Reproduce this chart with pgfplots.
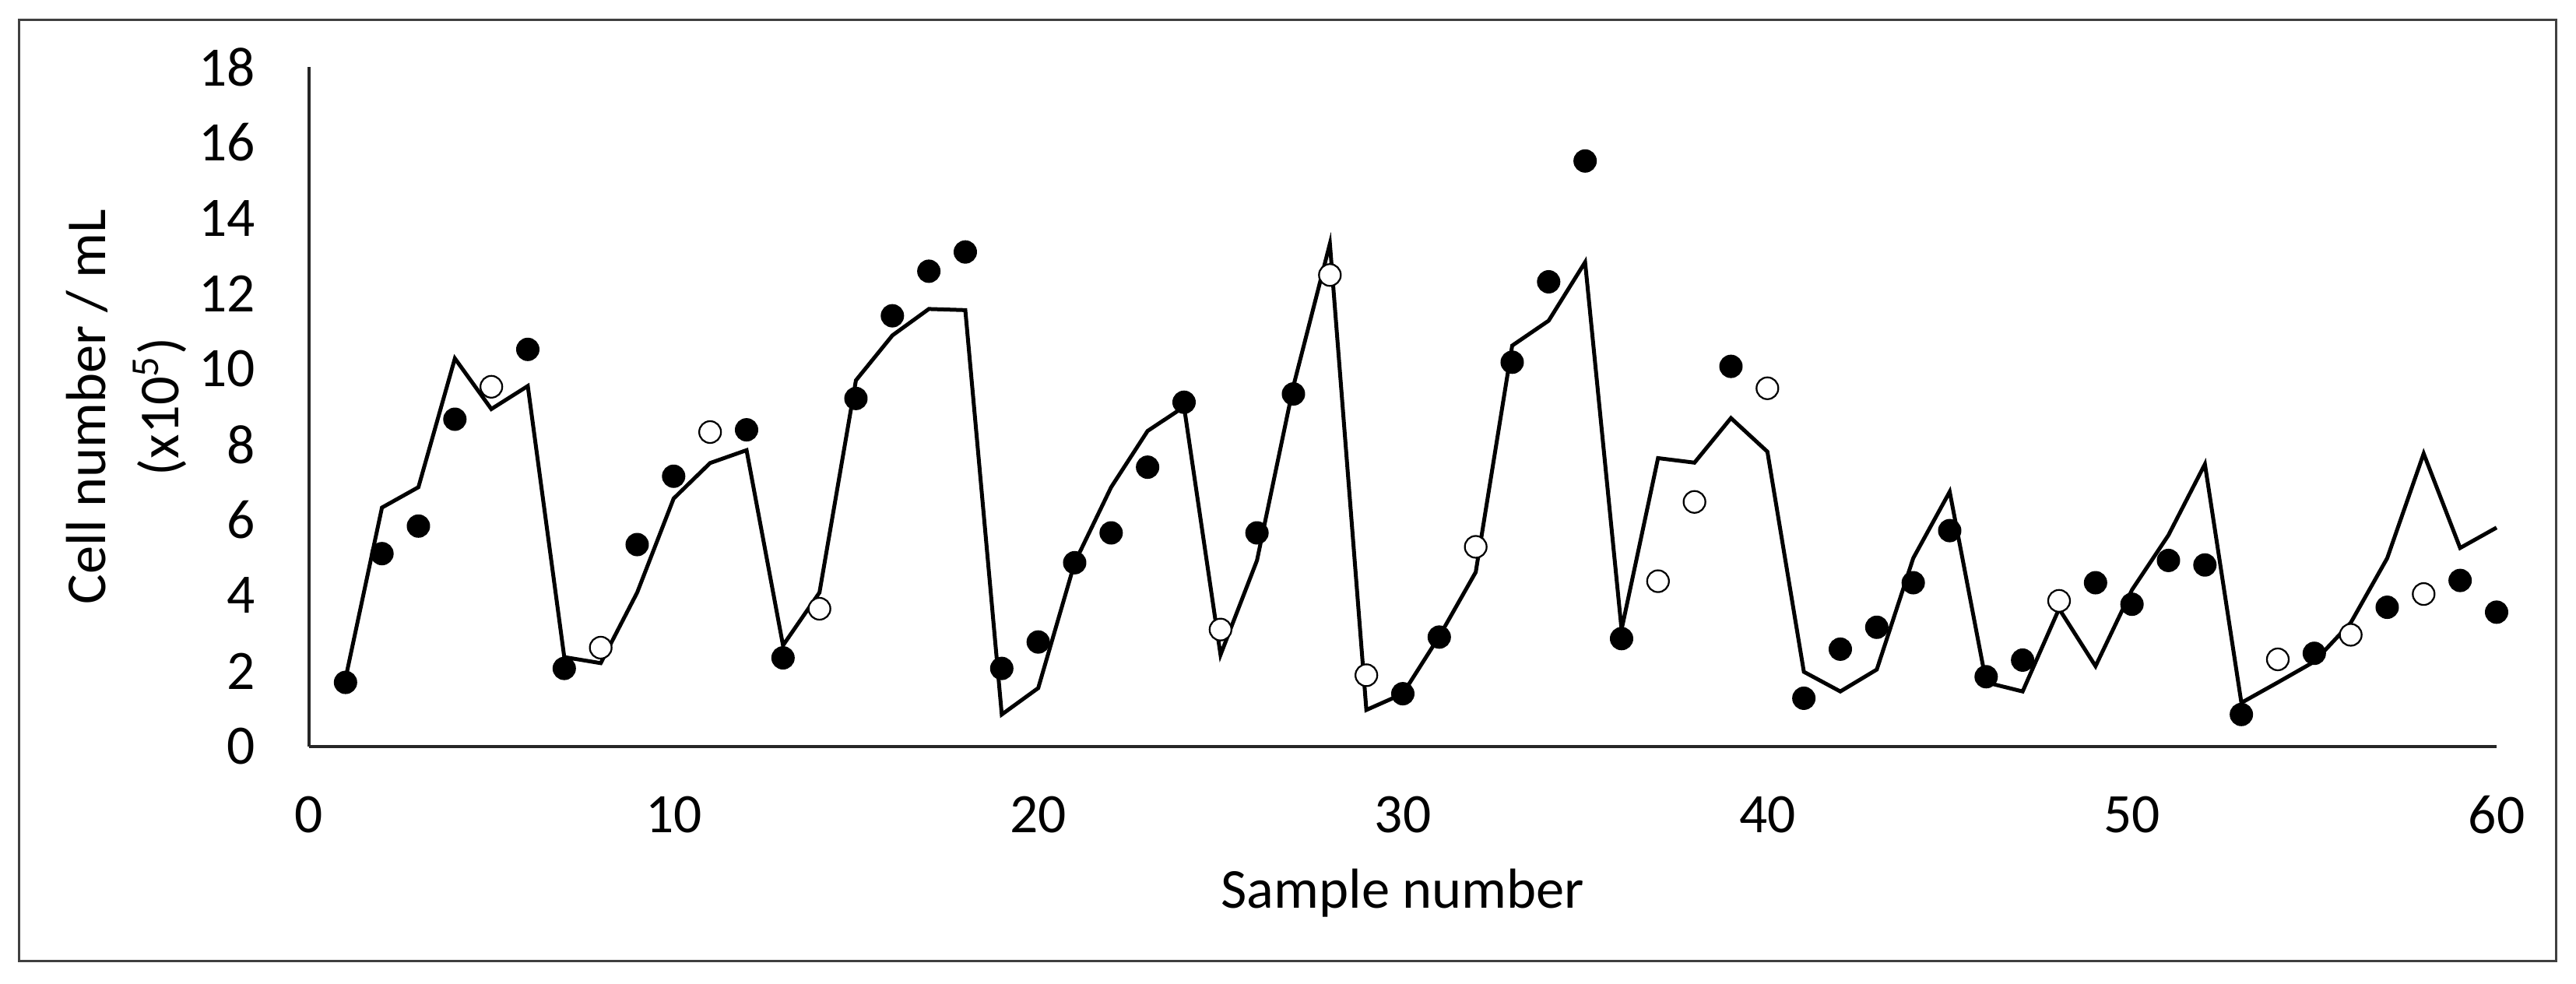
\documentclass[border=0pt]{standalone}
\usepackage{pgfplots}
\pgfplotsset{compat=1.18}
\usepackage{fontspec}
\setmainfont{Carlito}
\begin{document}
\begin{tikzpicture}
\useasboundingbox (-79.4pt,-60.8pt) rectangle (582.4pt,191.8pt);
\fill[white] (-79.4pt,-60.8pt) rectangle (582.4pt,191.8pt);
\draw[black!75, line width=0.6pt] (-74.4pt,-55pt) rectangle (577.2pt,186.8pt);
\begin{axis}[
  at={(0pt,0pt)}, anchor=south west,
  scale only axis, width=562pt, height=174.6pt,
  xmin=0, xmax=60, ymin=0, ymax=18,
  axis x line=bottom, axis y line=left,
  axis line style={-, draw=black!85, line width=0.7pt},
  xtick={0,10,...,60}, ytick={0,2,...,18},
  major tick length=0pt,
  /pgf/number format/assume math mode=true,
  tick label style={font=\fontsize{14.3}{17}\selectfont, inner sep=0pt},
  xticklabel style={anchor=center, yshift=-17.6pt},
  yticklabel style={anchor=east, xshift=-13.6pt},
  xlabel={Sample number},
  ylabel={Cell number / mL\\(x10\textsuperscript{5})},
  label style={font=\fontsize{14.5}{18.8}\selectfont},
  xlabel style={at={(axis description cs:0.5,-0.2153)}, anchor=center},
  ylabel style={at={(axis description cs:-0.0836,0.5)}, anchor=center, align=center},
  clip=false,
]
\addplot[black, line width=1pt, no marks] coordinates {
(1,1.8) (2,6.33) (3,6.87) (4,10.28) (5,8.94) (6,9.55) (7,2.37) (8,2.21) (9,4.08) (10,6.57)
(11,7.51) (12,7.85) (13,2.68) (14,4.08) (15,9.7) (16,10.89) (17,11.59) (18,11.56) (19,0.85) (20,1.55)
(21,4.87) (22,6.87) (23,8.36) (24,9.0) (25,2.43) (26,4.93) (27,9.55) (28,13.32) (29,0.97) (30,1.40)
(31,2.92) (32,4.62) (33,10.62) (34,11.28) (35,12.83) (36,3.10) (37,7.64) (38,7.52) (39,8.70) (40,7.81)
(41,1.98) (42,1.46) (43,2.04) (44,4.99) (45,6.75) (46,1.70) (47,1.46) (48,3.65) (49,2.13) (50,4.15)
(51,5.60) (52,7.48) (53,1.16) (54,1.70) (55,2.25) (56,3.28) (57,4.99) (58,7.76) (59,5.26) (60,5.80)
};
\addplot[only marks, mark=*, mark size=2.8pt, mark options={fill=black, draw=black}] coordinates {
(1,1.70) (2,5.11) (3,5.84) (4,8.67) (6,10.52) (7,2.07) (9,5.35) (10,7.16) (12,8.39) (13,2.35)
(15,9.22) (16,11.41) (17,12.59) (18,13.10) (19,2.07) (20,2.77) (21,4.87) (22,5.66) (23,7.40) (24,9.12)
(26,5.66) (27,9.34) (30,1.40) (31,2.90) (33,10.18) (34,12.31) (35,15.51) (36,2.86) (39,10.07) (41,1.28)
(42,2.58) (43,3.16) (44,4.34) (45,5.72) (46,1.85) (47,2.29) (49,4.34) (50,3.77) (51,4.93) (52,4.81)
(53,0.85) (55,2.47) (57,3.69) (59,4.40) (60,3.56)
};
\addplot[only marks, mark=*, mark size=2.8pt, mark options={fill=white, draw=black, line width=0.45pt}] coordinates {
(5,9.53) (8,2.62) (11,8.33) (14,3.65) (25,3.10) (28,12.49) (29,1.89) (32,5.29) (37,4.38) (38,6.48)
(40,9.49) (48,3.86) (54,2.31) (56,2.96) (58,4.04)
};
\end{axis}
\end{tikzpicture}
\end{document}
